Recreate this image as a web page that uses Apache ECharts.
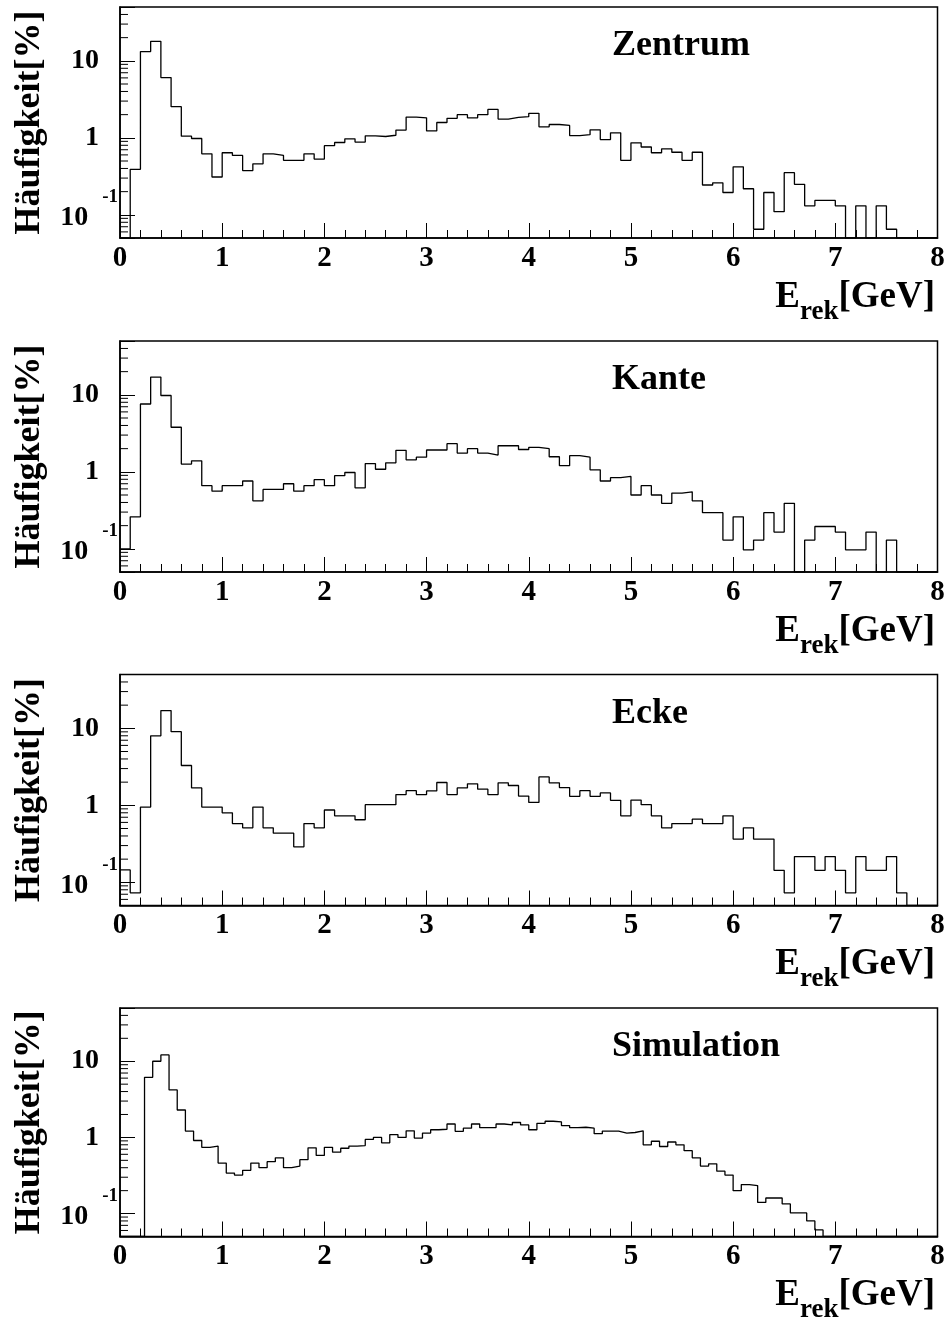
<!DOCTYPE html>
<html>
<head>
<meta charset="utf-8">
<script src="https://cdn.jsdelivr.net/npm/echarts@6/dist/echarts.min.js"></script>
<style>
  html, body { margin: 0; padding: 0; background: #fff; }
  #chart { width: 950px; height: 1324px; }
</style>
</head>
<body>
<div id="chart"></div>
<script>
// Distributions of the reconstructed energy E_rek for three impact regions
// of the detector module and for the simulation (frequency in percent).

const panelNames = ['Zentrum', 'Kante', 'Ecke', 'Simulation'];

// bin widths in GeV
const binWidthMeasured = 0.1;
const binWidthSimulation = 0.08;

// 80 bins, 0 - 8 GeV
const zentrum = [
  0, 0.39, 13.2, 17.9, 6.06, 2.54, 1.05, 0.98, 0.62, 0.31,
  0.64, 0.59, 0.375, 0.46, 0.62, 0.59, 0.51, 0.51, 0.62, 0.53,
  0.79, 0.87, 0.97, 0.88, 1.06, 1.04, 1.08, 1.26, 1.86, 1.82,
  1.23, 1.58, 1.79, 2.0, 1.82, 2.0, 2.34, 1.75, 1.84, 1.88,
  2.08, 1.39, 1.49, 1.45, 1.07, 1.10, 1.27, 0.95, 1.16, 0.51,
  0.86, 0.76, 0.64, 0.72, 0.65, 0.51, 0.65, 0.244, 0.26, 0.195,
  0.42, 0.218, 0.065, 0.195, 0.11, 0.353, 0.249, 0.131, 0.154, 0.154,
  0.131, 0, 0.131, 0, 0.131, 0.065, 0, 0, 0, 0
];

const kante = [
  0.1, 0.26, 7.6, 17, 9.8, 3.79, 1.26, 1.39, 0.66, 0.56,
  0.66, 0.66, 0.76, 0.42, 0.59, 0.59, 0.70, 0.56, 0.66, 0.79,
  0.66, 0.89, 0.98, 0.62, 1.28, 1.08, 1.31, 1.90, 1.43, 1.55,
  1.92, 1.92, 2.32, 1.75, 2.0, 1.75, 1.65, 2.18, 2.18, 1.95,
  2.08, 2.0, 1.57, 1.20, 1.62, 1.55, 1.06, 0.76, 0.84, 0.87,
  0.50, 0.66, 0.50, 0.39, 0.53, 0.55, 0.42, 0.295, 0.295, 0.13,
  0.26, 0.097, 0.13, 0.295, 0.165, 0.39, 0, 0.13, 0.195, 0.195,
  0.165, 0.097, 0.097, 0.165, 0, 0.13, 0, 0, 0, 0
];

const ecke = [
  0.145, 0.073, 0.95, 8.0, 17, 9.05, 3.29, 1.68, 0.95, 0.95,
  0.80, 0.58, 0.51, 0.95, 0.51, 0.435, 0.435, 0.289, 0.58, 0.51,
  0.87, 0.73, 0.73, 0.65, 1.02, 1.02, 1.02, 1.38, 1.55, 1.38,
  1.54, 1.98, 1.38, 1.68, 1.90, 1.62, 1.38, 1.96, 1.81, 1.32,
  1.09, 2.34, 1.96, 1.70, 1.31, 1.55, 1.31, 1.45, 1.16, 0.73,
  1.17, 1.02, 0.73, 0.51, 0.58, 0.58, 0.66, 0.58, 0.58, 0.73,
  0.364, 0.51, 0.364, 0.364, 0.143, 0.073, 0.216, 0.216, 0.143, 0.216,
  0.143, 0.073, 0.216, 0.143, 0.143, 0.216, 0.073, 0, 0, 0
];

// 100 bins, 0 - 8 GeV
const simulation = [
  0, 0, 0, 6.14, 10.0, 12.1, 4.2, 2.29, 1.21, 0.91,
  0.74, 0.77, 0.46, 0.34, 0.32, 0.37, 0.46, 0.40, 0.48, 0.54,
  0.40, 0.42, 0.51, 0.73, 0.58, 0.74, 0.64, 0.72, 0.77, 0.78,
  0.94, 1.0, 0.85, 1.09, 1.0, 1.22, 0.98, 1.14, 1.26, 1.28,
  1.50, 1.20, 1.32, 1.50, 1.34, 1.34, 1.50, 1.46, 1.57, 1.46,
  1.26, 1.53, 1.63, 1.60, 1.43, 1.34, 1.36, 1.32, 1.12, 1.21,
  1.21, 1.14, 1.16, 1.22, 0.80, 0.89, 0.76, 0.87, 0.80, 0.67,
  0.54, 0.42, 0.45, 0.36, 0.32, 0.20, 0.24, 0.233, 0.14, 0.16,
  0.16, 0.134, 0.102, 0.102, 0.080, 0.061, 0, 0, 0, 0,
  0, 0, 0, 0, 0, 0, 0, 0, 0, 0
];

const panelData = [zentrum, kante, ecke, simulation];
const panelBinWidth = [binWidthMeasured, binWidthMeasured, binWidthMeasured, binWidthSimulation];

// axis ranges and ticks
const xRange = [0, 8];
const yRange = [0.05, 50];
const yMajorTicks = [0.1, 1, 10];
const yMinorTicks = [
  0.06, 0.07, 0.08, 0.09,
  0.2, 0.3, 0.4, 0.5, 0.6, 0.7, 0.8, 0.9,
  2, 3, 4, 5, 6, 7, 8, 9,
  20, 30, 40
];

const FONT = '"Liberation Serif", "Times New Roman", serif';
const gridTops = [7, 341, 674.5, 1008];
const gridHeight = 231;

// y labels: 10, 1 and 10^-1 with a raised exponent
function yLabel(v) {
  const e = Math.log10(v);
  const p = Math.round(e);
  if (Math.abs(e - p) > 1e-6) return '';
  if (!yMajorTicks.some(t => Math.abs(Math.log10(t) - p) < 1e-6)) return '';
  if (p >= 0) return '{n|' + Math.pow(10, p) + '}';
  return '{b|10}{s|' + p + '}';
}

// histogram outline: each bin drawn from its left edge, empty bins sit on the axis floor
function stepPoints(values, width) {
  const pts = values.map((v, k) => [k * width, Math.max(v, yRange[0])]);
  pts.push([values.length * width, Math.max(values[values.length - 1], yRange[0])]);
  return pts;
}

const labelBase = { color: '#000', fontFamily: FONT, fontWeight: 'bold' };

const grid = [], xAxis = [], yAxis = [], series = [], title = [];

panelNames.forEach((name, i) => {
  grid.push({
    left: 120, right: 12.5, top: gridTops[i], height: gridHeight,
    show: true, borderColor: '#000', borderWidth: 1.5, backgroundColor: 'transparent'
  });

  xAxis.push({
    type: 'value', gridIndex: i, min: xRange[0], max: xRange[1], interval: 1,
    axisLine: { show: true, onZero: false, lineStyle: { color: '#000', width: 1.5 } },
    axisTick: { show: true, inside: true, length: 15, lineStyle: { color: '#000', width: 1 } },
    minorTick: { show: true, splitNumber: 5, length: 8, lineStyle: { color: '#000', width: 1 } },
    splitLine: { show: false },
    minorSplitLine: { show: false },
    axisLabel: Object.assign({ margin: 6, fontSize: 29, showMinLabel: true, showMaxLabel: true }, labelBase),
    name: '{e|E}{s|rek}{e|[GeV]}',
    nameLocation: 'end',
    nameGap: -2.5,
    nameMoveOverlap: false,
    nameTextStyle: {
      align: 'right', verticalAlign: 'top', padding: [39, 0, 0, 0],
      rich: {
        e: Object.assign({ fontSize: 37, lineHeight: 40 }, labelBase),
        s: Object.assign({ fontSize: 27, lineHeight: 27, padding: [30, 0, 0, 0] }, labelBase)
      }
    }
  });

  yAxis.push({
    type: 'log', logBase: 10, gridIndex: i, min: yRange[0], max: yRange[1],
    axisLine: { show: true, lineStyle: { color: '#000', width: 1.5 } },
    axisTick: { show: true, inside: true, length: 15, lineStyle: { color: '#000', width: 1 } },
    splitLine: { show: false },
    axisLabel: {
      margin: 2,
      formatter: yLabel,
      rich: {
        n: Object.assign({ fontSize: 28, padding: [0, 19, 0, 0] }, labelBase),
        b: Object.assign({ fontSize: 28, lineHeight: 28, padding: [16, 14, 10, 0] }, labelBase),
        s: Object.assign({ fontSize: 19, lineHeight: 19, padding: [0, 0, 35, 0] }, labelBase)
      }
    },
    name: 'Häufigkeit[%]',
    nameLocation: 'middle',
    nameGap: 72,
    nameTextStyle: Object.assign({ fontSize: 36 }, labelBase)
  });

  series.push({
    type: 'line', xAxisIndex: i, yAxisIndex: i,
    step: 'end', symbol: 'none', showSymbol: false,
    lineStyle: { color: '#000', width: 1.3 },
    data: stepPoints(panelData[i], panelBinWidth[i]),
    animation: false, silent: true, clip: true
  });

  // logarithmic sub-ticks 2..9 of each decade on the frequency axis
  series.push({
    type: 'custom', xAxisIndex: i, yAxisIndex: i,
    data: yMinorTicks.map(v => [xRange[0], v]),
    encode: { x: 0, y: 1 },
    silent: true, animation: false, clip: false,
    renderItem: (params, api) => {
      const p = api.coord([api.value(0), api.value(1)]);
      return {
        type: 'line',
        shape: { x1: p[0], y1: p[1], x2: p[0] + 8, y2: p[1] },
        style: { stroke: '#000', lineWidth: 1 }
      };
    }
  });

  title.push({
    text: name, left: 607, top: gridTops[i] + 16,
    textStyle: { fontSize: 36, fontWeight: 'bold', fontFamily: FONT, color: '#000' }
  });
});

const chart = echarts.init(document.getElementById('chart'), null, { renderer: 'canvas' });
chart.setOption({
  animation: false,
  backgroundColor: '#fff',
  title, grid, xAxis, yAxis, series
});
</script>
</body>
</html>
